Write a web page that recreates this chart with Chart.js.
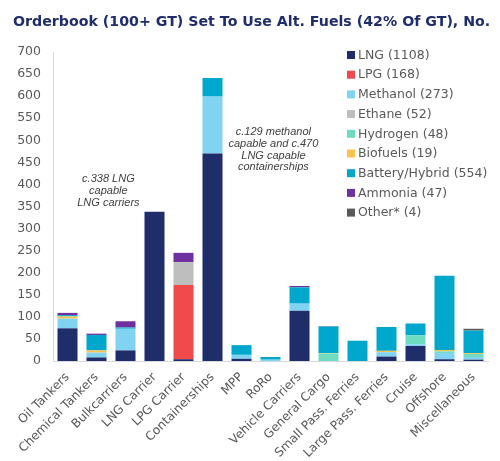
<!DOCTYPE html>
<html><head><meta charset="utf-8">
<script src="https://cdn.jsdelivr.net/npm/chart.js@4/dist/chart.umd.min.js"></script>
<style>html,body{margin:0;padding:0;background:#fff;}canvas{display:block;}</style>
</head><body>
<canvas id="c" width="500" height="461"></canvas>
<script>
const categories = ["Oil Tankers","Chemical Tankers","Bulkcarriers","LNG Carrier","LPG Carrier","Containerships","MPP","RoRo","Vehicle Carriers","General Cargo","Small Pass. Ferries","Large Pass. Ferries","Cruise","Offshore","Miscellaneous"];
const lng      = [74, 8, 24, 338, 4, 470, 5, 0, 114, 0, 0, 10, 34, 4, 3];
const lpg      = [0, 0, 0, 0, 168, 0, 0, 0, 0, 0, 0, 0, 0, 0, 0];
const methanol = [22, 11, 49, 0, 0, 129, 9, 3, 16, 0, 0, 10, 4, 14, 6];
const ethane   = [0, 0, 0, 0, 52, 0, 0, 0, 0, 0, 0, 0, 0, 0, 0];
const hydrogen = [0, 0, 0, 0, 0, 0, 0, 0, 0, 17, 0, 0, 20, 4, 7];
const biofuels = [5, 5, 0, 0, 0, 0, 0, 0, 0, 1, 0, 3, 0, 3, 2];
const battery  = [3, 35, 3, 0, 0, 42, 22, 6, 37, 60, 46, 54, 27, 168, 51];
const ammonia  = [5, 3, 14, 0, 21, 0, 0, 0, 3, 1, 0, 0, 0, 0, 0];
const other    = [0, 0, 0, 0, 0, 0, 0, 0, 0, 0, 0, 0, 0, 0, 4];
const seriesNames  = ["LNG","LPG","Methanol","Ethane","Hydrogen","Biofuels","Battery/Hybrid","Ammonia","Other*"];
const seriesTotals = [1108, 168, 273, 52, 48, 19, 554, 47, 4];
const seriesColors = ["#1F2D6B","#F04A4C","#80D4F2","#BEBEBE","#6EDCC0","#FFC24F","#00A7CC","#7030A0","#595959"];
const seriesData = [lng, lpg, methanol, ethane, hydrogen, biofuels, battery, ammonia, other];
const titleText = "Orderbook (100+ GT) Set To Use Alt. Fuels (42% Of GT), No.";
const yTicks = {min: 0, max: 700, step: 50};
const notes = [
  {lines: ["c.338 LNG", "capable", "LNG carriers"], cat: 1.41, value: 412},
  {lines: ["c.129 methanol", "capable and c.470", "LNG capable", "containerships"], cat: 7.1, value: 519}
];

const datasets = seriesNames.map((n, i) => ({
  label: n + " (" + seriesTotals[i] + ")",
  data: seriesData[i],
  backgroundColor: seriesColors[i],
  borderWidth: 0,
  barPercentage: 0.69,
  categoryPercentage: 1.0
}));

const extras = {
  id: 'extras',
  afterDraw(chart) {
    const ctx = chart.ctx;
    ctx.save();
    ctx.fillStyle = "#1F2D6B";
    ctx.font = "bold 14.2px 'DejaVu Sans'";
    ctx.textBaseline = "middle";
    ctx.textAlign = "left";
    ctx.fillText(titleText, 13, 22);
    ctx.font = "12.5px 'DejaVu Sans'";
    chart.data.datasets.forEach((ds, i) => {
      const y = 55 + i * 19.7;
      ctx.fillStyle = ds.backgroundColor;
      ctx.fillRect(347, y - 4, 8, 8);
      ctx.fillStyle = "#595959";
      ctx.fillText(ds.label, 358, y + 0.5);
    });
    const xs = chart.scales.x, ys = chart.scales.y;
    ctx.font = "italic 11px 'Liberation Sans'";
    ctx.fillStyle = "#404040";
    ctx.textAlign = "center";
    notes.forEach(n => {
      const cx = xs.getPixelForValue(0) + n.cat * (xs.getPixelForValue(1) - xs.getPixelForValue(0));
      const y0 = ys.getPixelForValue(n.value);
      n.lines.forEach((l, k) => ctx.fillText(l, cx, y0 + k * 11.8));
    });
    ctx.restore();
  }
};

new Chart(document.getElementById('c'), {
  type: 'bar',
  data: {labels: categories, datasets},
  options: {
    responsive: false,
    animation: false,
    devicePixelRatio: 1,
    layout: {padding: {top: 52, right: 12, left: 0, bottom: 0}},
    plugins: {legend: {display: false}, title: {display: false}, tooltip: {enabled: false}},
    scales: {
      x: {
        stacked: true,
        grid: {display: false, drawTicks: false},
        border: {display: true, color: "#D9D9D9", width: 1},
        ticks: {color: "#595959", font: {family: "'DejaVu Sans'", size: 12.2}, maxRotation: 45, minRotation: 45, autoSkip: false, padding: 9},
        afterFit(s) { s.height = 100; }
      },
      y: {
        stacked: true,
        min: yTicks.min, max: yTicks.max,
        grid: {display: false, drawTicks: false},
        border: {display: true, color: "#D9D9D9", width: 1},
        ticks: {stepSize: yTicks.step, color: "#595959", font: {family: "'DejaVu Sans'", size: 12.5}, padding: 12},
        afterFit(s) { s.width = 53; }
      }
    }
  },
  plugins: [extras]
});
</script>
</body></html>
